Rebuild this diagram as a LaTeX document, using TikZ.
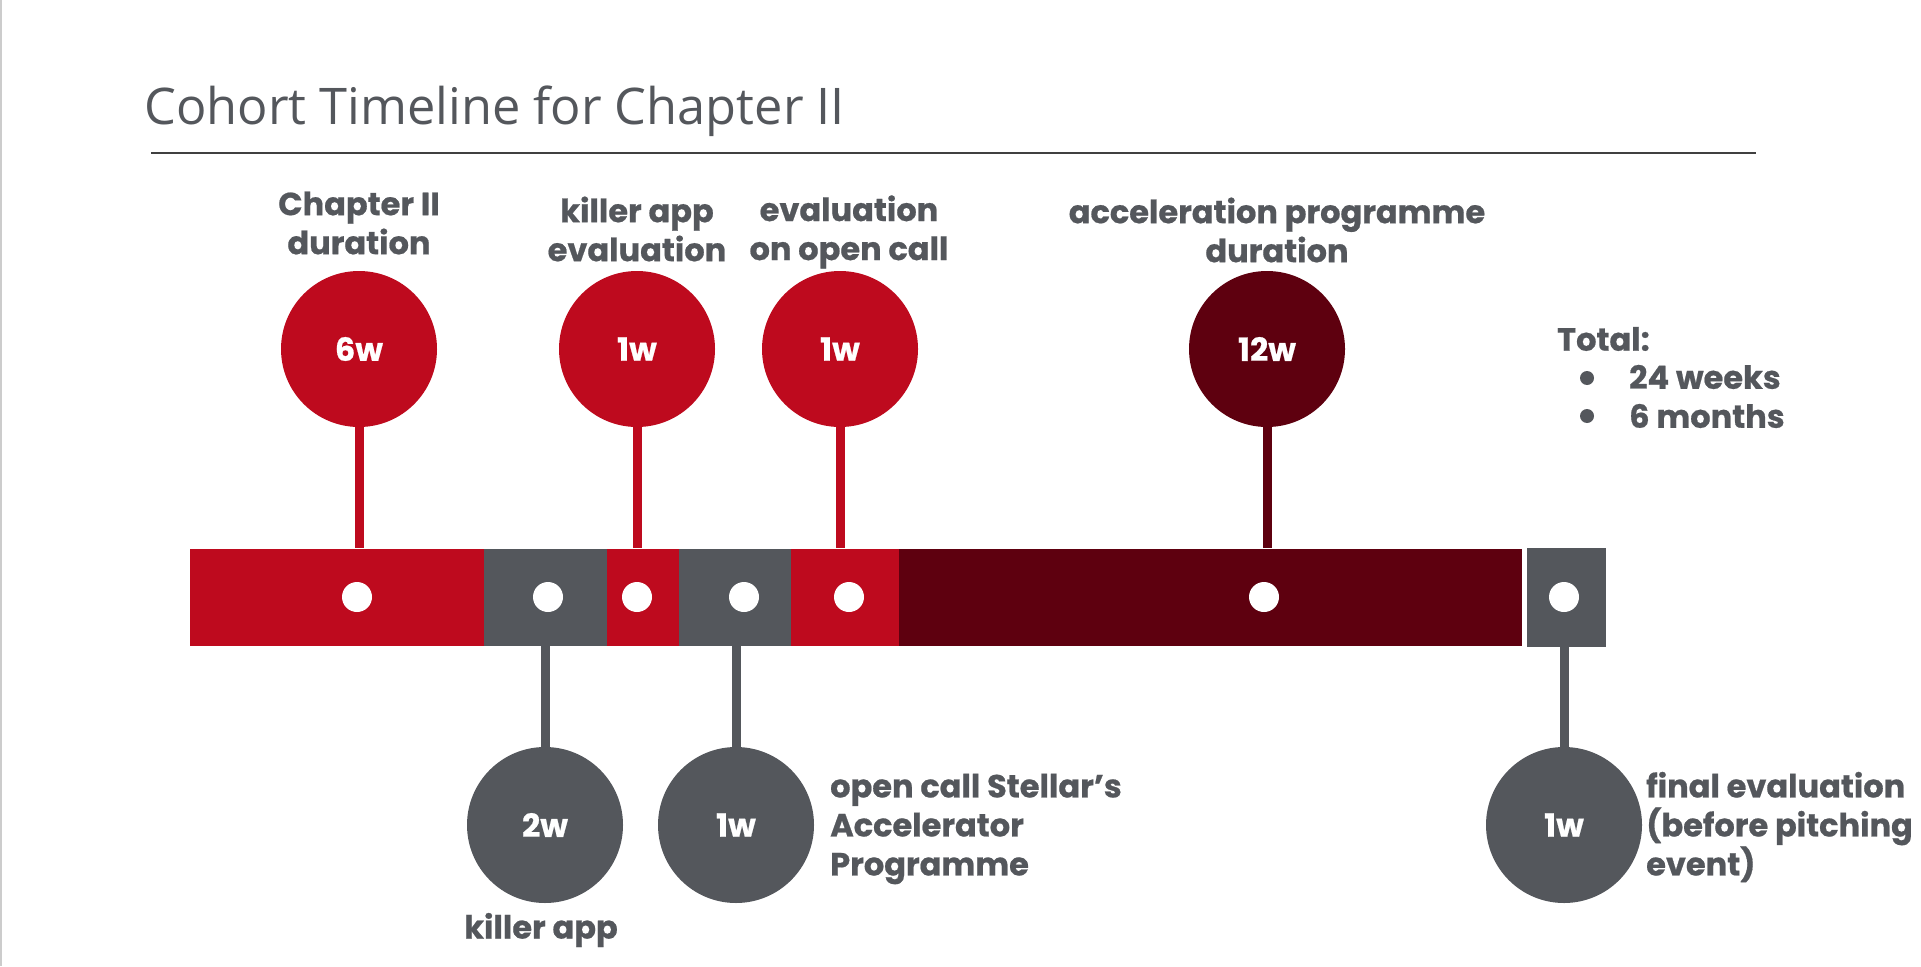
\documentclass[tikz,border=0pt]{standalone}
\usepackage{fontspec}
\setmainfont{Poppins}[BoldFeatures={FakeBold=0.6}]
\newfontfamily\titlefont{Open Sans}
\definecolor{cred}{HTML}{BE0A1E}
\definecolor{cdark}{HTML}{5E000F}
\definecolor{cgray}{HTML}{54575C}
\definecolor{cline}{HTML}{404040}
\tikzset{
  lbl/.style={font=\fontsize{32}{39}\selectfont\bfseries, text=cgray, inner sep=0pt},
  bigc/.style={circle, minimum size=156pt, inner sep=0pt, text=white, font=\fontsize{32}{36}\selectfont\bfseries},
  seg/.style={rectangle, inner sep=0pt, minimum height=97pt, anchor=west},
  wdot/.style={circle, fill=white, minimum size=30pt, inner sep=0pt},
  stemline/.style={line width=9pt},
  bul/.style={circle, fill=cgray, minimum size=14pt, inner sep=0pt}
}
\begin{document}
\begin{tikzpicture}[x=1pt,y=-1pt]
\useasboundingbox (0,0) rectangle (1921,966);
\fill[white] (0,0) rectangle (1921,966);
\draw[gray!40, line width=2pt] (1,0) -- (1,966);
% title
\node[anchor=base west, inner sep=0pt, text=cgray, font=\titlefont\fontsize{50.5}{54}\selectfont] (title) at (144,124) {Cohort Timeline for Chapter II};
\coordinate (r1) at (151,153);
\coordinate (r2) at (1756,153);
\draw[cline, line width=2pt] (r1) -- (r2);
% bar segments
\node[seg, fill=cred, minimum width=294pt] (s1) at (190,597) {};
\node[seg, fill=cgray, minimum width=123pt] (s2) at (484,597) {};
\node[seg, fill=cred, minimum width=72pt] (s3) at (607,597) {};
\node[seg, fill=cgray, minimum width=112pt] (s4) at (679,597) {};
\node[seg, fill=cred, minimum width=108pt] (s5) at (791,597) {};
\node[seg, fill=cdark, minimum width=623pt] (s6) at (899,597) {};
\node[seg, fill=cgray, minimum width=79pt, minimum height=99pt] (s7) at (1527,597) {};
% dots
\node[wdot] (d1) at (357,597) {};
\node[wdot] (d2) at (548,597) {};
\node[wdot] (d3) at (637,597) {};
\node[wdot] (d4) at (744,597) {};
\node[wdot] (d5) at (849,597) {};
\node[wdot] (d6) at (1264,597) {};
\node[wdot] (d7) at (1564,597) {};
% upper circles
\node[bigc, fill=cred] (c1) at (359,349) {6w};
\node[bigc, fill=cred] (c2) at (637,349) {1w};
\node[bigc, fill=cred] (c3) at (840,349) {1w};
\node[bigc, fill=cdark] (c4) at (1267,349) {12w};
% lower circles
\node[bigc, fill=cgray] (c5) at (545,825) {2w};
\node[bigc, fill=cgray] (c6) at (736,825) {1w};
\node[bigc, fill=cgray] (c7) at (1564,825) {1w};
% stems
\draw[stemline, cred] (c1.south) -- (c1.south |- s1.north);
\draw[stemline, cred] (c2.south) -- (c2.south |- s3.north);
\draw[stemline, cred] (c3.south) -- (c3.south |- s5.north);
\draw[stemline, cdark] (c4.south) -- (c4.south |- s6.north);
\draw[stemline, cgray] (c5.north) -- (c5.north |- s2.south);
\draw[stemline, cgray] (c6.north) -- (c6.north |- s4.south);
\draw[stemline, cgray] (c7.north) -- (c7.north |- s7.south);
% upper labels
\node[lbl, align=center] (l1) at (359,223) {Chapter II\\duration};
\node[lbl, align=center] (l2) at (637,229) {killer app\\evaluation};
\node[lbl, align=center] (l3) at (849,232) {evaluation\\on open call};
\node[lbl, align=center] (l4) at (1277,230) {acceleration programme\\duration};
% lower labels
\node[lbl] (l5) at (541,930) {killer app};
\node[lbl, align=left, anchor=west] (l6) at (830,829) {open call Stellar’s\\Accelerator\\Programme};
\node[lbl, align=left, anchor=west] (l7) at (1646,827) {final evaluation\\(before pitching\\event)};
% total
\node[lbl, anchor=west] (tot) at (1557,339) {Total:};
\node[bul] (b1) at (1587,378) {};
\node[bul] (b2) at (1587,416) {};
\node[lbl, anchor=west] (t1) at (1629,377) {24 weeks};
\node[lbl, anchor=west] (t2) at (1629,416) {6 months};
\end{tikzpicture}
\end{document}
